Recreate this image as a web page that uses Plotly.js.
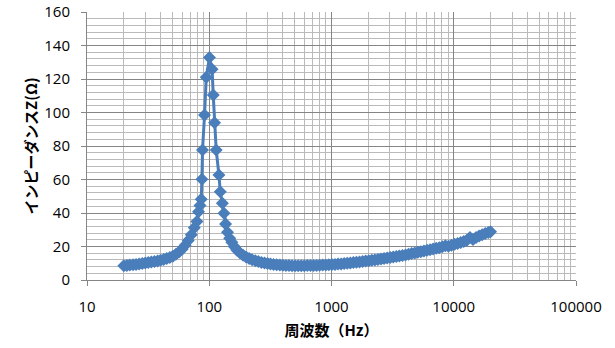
<!DOCTYPE html>
<html>
<head>
<meta charset="utf-8">
<script src="https://cdn.plot.ly/plotly-3.0.1.min.js"></script>
<style>
  html, body { margin: 0; padding: 0; background: #ffffff; }
  #chart { width: 615px; height: 348px; }
</style>
</head>
<body>
<div id="chart"></div>
<script>
// Frequency (Hz)
var freqHz = [20, 21.2, 22.4, 23.8, 25.2, 26.7, 28.3, 30, 31.7, 33.6, 35.6, 37.8, 40, 42.4, 44.9, 47.6, 50.4, 53.4, 56.6, 59.9,
  63.5, 67.3, 71.3, 75.5, 79.3, 81.7, 84, 86, 87.1, 88.1, 91.5, 94.5, 100.4, 105.5, 107.8, 110.5, 114, 120, 123, 128,
  132, 136, 141, 147, 153, 160, 168, 178, 189, 200, 212, 224, 238, 252, 267, 283, 300, 317, 336, 356,
  378, 400, 424, 449, 476, 504, 534, 566, 599, 635, 673, 713, 755, 800, 848, 898, 951, 1008, 1068, 1131,
  1199, 1270, 1345, 1425, 1510, 1600, 1695, 1796, 1903, 2016, 2136, 2263, 2397, 2540, 2691, 2851, 3020, 3200, 3390, 3592,
  3805, 4032, 4271, 4525, 4794, 5080, 5382, 5702, 6041, 6400, 6780, 7183, 7610, 8063, 8542, 9050, 9588, 10158, 10762, 11402,
  12080, 12800, 13560, 14366, 15220, 16126, 17084, 18100, 19176, 20000];

// Impedance Z (Ω)
var impedanceOhm = [8.5, 8.7, 8.9, 9.1, 9.3, 9.5, 9.8, 10.1, 10.4, 10.7, 11.0, 11.4, 11.8, 12.3, 12.8, 13.4, 14.2, 15.3, 16.7, 18.4,
  20.7, 23.6, 27.0, 31.2, 35.0, 40.8, 44.5, 48.2, 60.1, 77.6, 98.5, 121, 132.9, 125.8, 110.4, 93.9, 77.6, 62.7, 52.7, 45.8,
  39.8, 33.5, 28.5, 25.0, 22.5, 20.0, 17.9, 16.2, 14.8, 13.7, 12.8, 12.1, 11.5, 11.0, 10.5, 10.1, 9.8, 9.5, 9.3, 9.1,
  8.9, 8.8, 8.7, 8.6, 8.5, 8.5, 8.5, 8.5, 8.5, 8.6, 8.6, 8.7, 8.7, 8.8, 8.9, 9.0, 9.1, 9.2, 9.3, 9.5,
  9.6, 9.8, 10.0, 10.2, 10.4, 10.6, 10.8, 11.0, 11.3, 11.5, 11.8, 12.0, 12.3, 12.6, 12.9, 13.2, 13.5, 13.8, 14.1, 14.4,
  14.7, 15.0, 15.4, 15.8, 16.1, 16.5, 16.9, 17.3, 17.7, 18.1, 18.5, 18.9, 19.3, 19.8, 20.4, 20.1, 20.7, 21.3, 21.8, 22.4,
  23.0, 23.8, 25.3, 24.2, 25.4, 26.2, 27.0, 27.7, 28.3, 28.8];

// Axis ticks
var xTickVals = [10, 100, 1000, 10000, 100000];
var xTickText = ['10', '100', '1000', '10000', '100000'];
var yTickVals = [0, 20, 40, 60, 80, 100, 120, 140, 160];

var xTitle = '周波数（Hz）';
var yTitle = 'インピーダンスZ(Ω)';

// minor log gridlines (2..9 within each decade)
var xMinor = [];
for (var d = 1; d < 5; d++) {
  for (var m = 2; m <= 9; m++) xMinor.push(m * Math.pow(10, d));
}

var seriesColor = '#4a7ebb';
var labelFont = {family: 'Open Sans, Liberation Sans, sans-serif', size: 15, color: '#000000'};
var titleFont = {family: 'Noto Sans CJK JP, sans-serif', size: 15, color: '#000000', weight: 'bold'};

var trace = {
  x: freqHz,
  y: impedanceOhm,
  type: 'scatter',
  mode: 'lines+markers',
  line: {color: seriesColor, width: 3},
  marker: {symbol: 'diamond', size: 10, color: seriesColor},
  hoverinfo: 'skip'
};

var layout = {
  width: 615,
  height: 348,
  margin: {l: 87, r: 39, t: 12, b: 68},
  paper_bgcolor: '#ffffff',
  plot_bgcolor: '#ffffff',
  showlegend: false,
  xaxis: {
    type: 'log',
    range: [1, 5],
    tickmode: 'array',
    tickvals: xTickVals,
    ticktext: xTickText,
    tickfont: labelFont,
    ticks: 'outside',
    ticklen: 5,
    tickcolor: '#868686',
    ticklabelstandoff: 8,
    showline: true,
    linecolor: '#868686',
    linewidth: 1,
    showgrid: true,
    gridcolor: '#858585',
    gridwidth: 1,
    zeroline: false,
    minor: {tickmode: 'array', tickvals: xMinor, showgrid: true, gridcolor: '#bababa', gridwidth: 1, ticks: ''},
    title: {text: xTitle, font: titleFont, standoff: 10}
  },
  yaxis: {
    range: [0, 160],
    tickmode: 'array',
    tickvals: yTickVals,
    tickfont: labelFont,
    ticks: 'outside',
    ticklen: 5,
    tickcolor: '#868686',
    ticklabelstandoff: 8,
    showline: true,
    linecolor: '#868686',
    linewidth: 1,
    showgrid: true,
    gridcolor: '#858585',
    gridwidth: 1,
    zeroline: false,
    minor: {dtick: 4, showgrid: true, gridcolor: '#bababa', gridwidth: 1, ticks: ''},
    title: {text: yTitle, font: titleFont, standoff: 3}
  }
};

Plotly.newPlot('chart', [trace], layout, {staticPlot: true, displayModeBar: false});
</script>
</body>
</html>
